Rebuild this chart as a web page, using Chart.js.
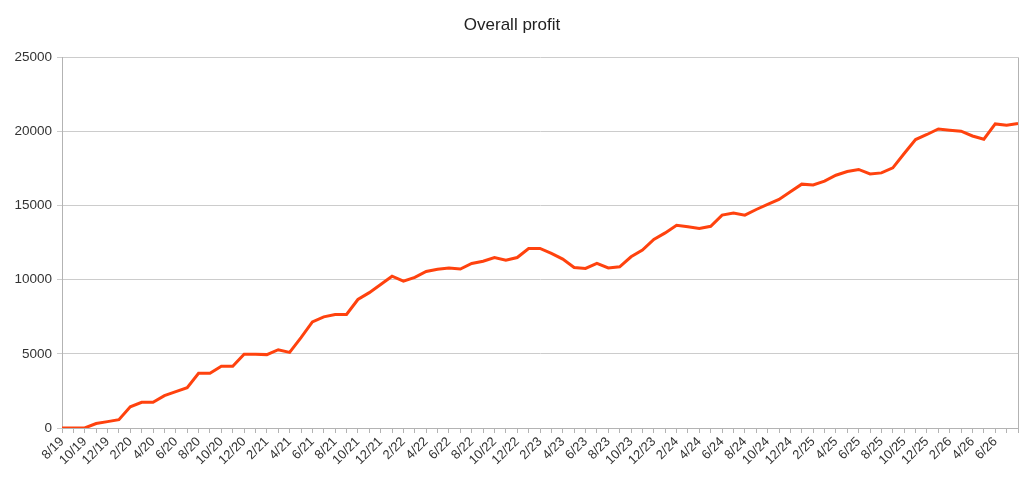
<!DOCTYPE html>
<html>
<head>
<meta charset="utf-8">
<script src="https://cdn.jsdelivr.net/npm/chart.js@4/dist/chart.umd.min.js"></script>
<style>
  html, body { margin: 0; padding: 0; background: #fff; }
  #wrap { width: 1024px; height: 486px; }
</style>
</head>
<body>
<div id="wrap"><canvas id="myChart" width="1024" height="486"></canvas></div>
<script>
// months 8/19 .. 8/26
const months = [
  "8/19", "9/19", "10/19", "11/19", "12/19", "1/20", "2/20", "3/20", "4/20", "5/20",
  "6/20", "7/20", "8/20", "9/20", "10/20", "11/20", "12/20", "1/21", "2/21", "3/21",
  "4/21", "5/21", "6/21", "7/21", "8/21", "9/21", "10/21", "11/21", "12/21", "1/22",
  "2/22", "3/22", "4/22", "5/22", "6/22", "7/22", "8/22", "9/22", "10/22", "11/22",
  "12/22", "1/23", "2/23", "3/23", "4/23", "5/23", "6/23", "7/23", "8/23", "9/23",
  "10/23", "11/23", "12/23", "1/24", "2/24", "3/24", "4/24", "5/24", "6/24", "7/24",
  "8/24", "9/24", "10/24", "11/24", "12/24", "1/25", "2/25", "3/25", "4/25", "5/25",
  "6/25", "7/25", "8/25", "9/25", "10/25", "11/25", "12/25", "1/26", "2/26", "3/26",
  "4/26", "5/26", "6/26", "7/26", "8/26"
];

const profit = [
  0, 0, 0, 300, 430, 560, 1430, 1730, 1730, 2180,
  2450, 2720, 3690, 3690, 4160, 4160, 4970, 4970, 4950, 5280,
  5100, 6100, 7160, 7500, 7660, 7660, 8670, 9130, 9680, 10240,
  9910, 10160, 10560, 10710, 10790, 10720, 11100, 11250, 11500, 11320,
  11500, 12110, 12110, 11780, 11390, 10830, 10760, 11100, 10800, 10870,
  11550, 12000, 12720, 13160, 13680, 13570, 13460, 13610, 14360, 14510,
  14360, 14740, 15080, 15420, 15930, 16450, 16400, 16650, 17050, 17300,
  17440, 17140, 17210, 17550, 18520, 19460, 19800, 20170, 20090, 20020,
  19700, 19480, 20510, 20420, 20540
];

const yTicks = [0, 5000, 10000, 15000, 20000, 25000];

const axisColor = "#b3b3b3";
const gridColor = "#cccccc";
const textColor = "#333333";

// right border of the plot area
const rightBorder = {
  id: "rightBorder",
  afterDraw(chart) {
    const a = chart.chartArea;
    const c = chart.ctx;
    c.save();
    c.strokeStyle = axisColor;
    c.lineWidth = 1;
    c.beginPath();
    c.moveTo(Math.round(a.right) + 0.5, a.top);
    c.lineTo(Math.round(a.right) + 0.5, a.bottom);
    c.stroke();
    c.restore();
  }
};

const ctx = document.getElementById("myChart");
const myChart = new Chart(ctx, {
  type: "line",
  data: {
    labels: months,
    datasets: [
      {
        label: "Overall profit",
        data: profit,
        borderColor: "#ff420e",
        backgroundColor: "#ff420e",
        borderWidth: 3,
        pointRadius: 0,
        tension: 0,
        fill: false,
      },
    ],
  },
  options: {
    responsive: false,
    animation: false,
    layout: { padding: { left: 0, right: 0, top: 0, bottom: 0 } },
    plugins: {
      legend: { display: false },
      tooltip: { enabled: false },
      title: {
        display: true,
        text: "Overall profit",
        color: "#222222",
        font: { family: "Liberation Sans", size: 17, weight: "normal" },
        padding: { top: 15, bottom: 22 },
      },
    },
    scales: {
      x: {
        offset: false,
        grid: { drawOnChartArea: false, color: axisColor, tickLength: 5 },
        border: { color: axisColor },
        ticks: {
          autoSkip: false,
          minRotation: 45,
          maxRotation: 45,
          color: textColor,
          font: { family: "Liberation Sans", size: 13 },
          padding: 1,
          callback: function (value, index) {
            if (index % 2 === 0 && index < months.length - 1) return months[index];
            return "";
          },
        },
        afterFit: function (scale) {
          scale.height = 58;
          scale.paddingRight = 6;
        },
      },
      y: {
        min: 0,
        max: 25000,
        afterBuildTicks: function (scale) {
          scale.ticks = yTicks.map((v) => ({ value: v }));
        },
        grid: { color: gridColor, tickLength: 5 },
        border: { color: axisColor },
        ticks: {
          color: textColor,
          font: { family: "Liberation Sans", size: 13.5 },
          padding: 5,
          callback: function (value) {
            return String(value);
          },
        },
        afterFit: function (scale) {
          scale.width = 62;
        },
      },
    },
  },
  plugins: [rightBorder],
});
</script>
</body>
</html>
